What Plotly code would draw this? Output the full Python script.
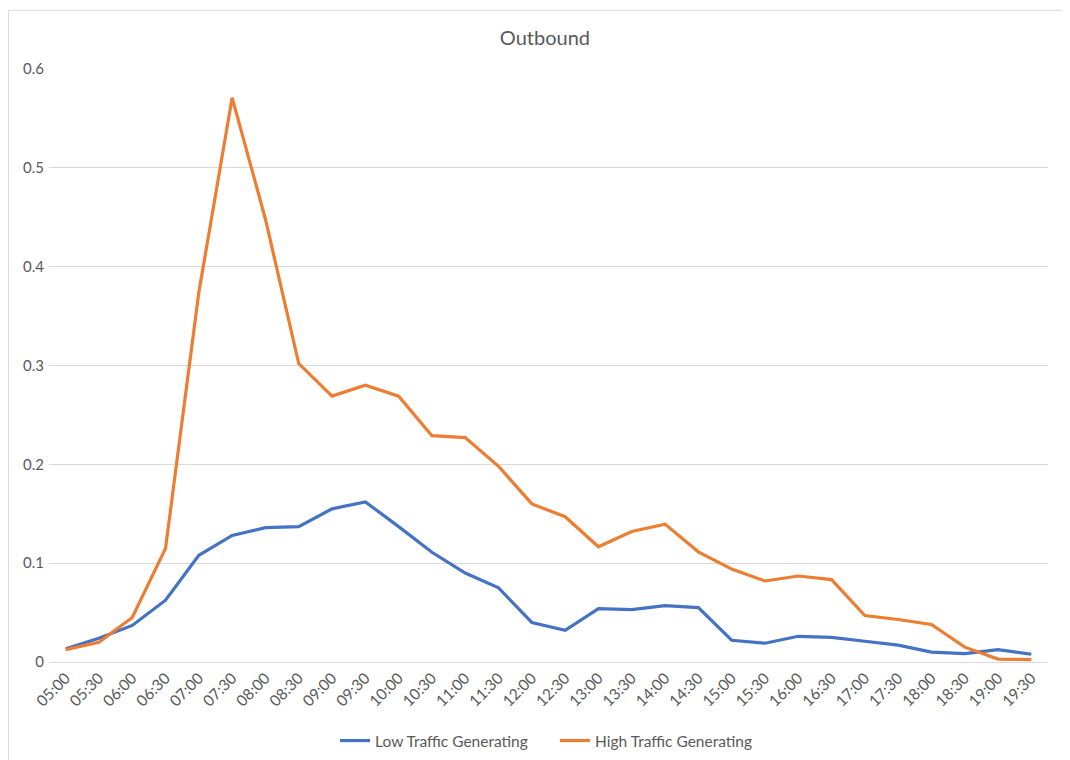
import plotly.graph_objects as go

times = ["05:00", "05:30", "06:00", "06:30", "07:00", "07:30", "08:00", "08:30",
         "09:00", "09:30", "10:00", "10:30", "11:00", "11:30", "12:00", "12:30",
         "13:00", "13:30", "14:00", "14:30", "15:00", "15:30", "16:00", "16:30",
         "17:00", "17:30", "18:00", "18:30", "19:00", "19:30"]

low_traffic = [0.0135, 0.024, 0.037, 0.0625, 0.108, 0.128, 0.136, 0.137,
               0.155, 0.162, 0.137, 0.111, 0.090, 0.075, 0.040, 0.032,
               0.054, 0.053, 0.057, 0.055, 0.022, 0.019, 0.026, 0.025,
               0.021, 0.017, 0.010, 0.0085, 0.0125, 0.0078]

high_traffic = [0.0125, 0.020, 0.045, 0.115, 0.374, 0.571, 0.448, 0.302,
                0.269, 0.280, 0.269, 0.229, 0.227, 0.198, 0.160, 0.147,
                0.1166, 0.132, 0.1395, 0.1115, 0.094, 0.082, 0.087, 0.0834,
                0.047, 0.043, 0.038, 0.015, 0.003, 0.0024]

grey = "#595959"
fnt = "Lato, 'Open Sans', sans-serif"

fig = go.Figure()
fig.add_trace(go.Scatter(x=times, y=low_traffic, mode="lines",
                         name="Low Traffic Generating",
                         line=dict(color="#4472C4", width=3.2)))
fig.add_trace(go.Scatter(x=times, y=high_traffic, mode="lines",
                         name="High Traffic Generating",
                         line=dict(color="#ED7D31", width=3.2)))

# page body has an 8px margin, so the figure is a bit smaller and shifted
fig.update_layout(
    width=1062, height=752,
    margin=dict(l=40.5, r=22, t=61, b=98.3),
    paper_bgcolor="white", plot_bgcolor="white",
    font=dict(family=fnt, color=grey, size=14),
    title=dict(text="Outbound", x=0.5056, xanchor="center", y=0.96, yanchor="middle",
               font=dict(size=20, color=grey, family=fnt)),
    legend=dict(orientation="h", xref="container", yref="container",
                x=0.308, xanchor="left", y=0.0253, yanchor="middle",
                font=dict(size=15.5, color=grey), entrywidth=175, tracegroupgap=0),
    showlegend=True,
)
fig.update_xaxes(type="category", tickangle=-45, showgrid=False, zeroline=False,
                 showline=True, linecolor="#D9D9D9", linewidth=1, ticks="",
                 tickfont=dict(size=15.5, color=grey), range=[-0.5, 29.5],
                 automargin=False)
fig.update_yaxes(range=[0, 0.6], dtick=0.1, showgrid=True, gridcolor="#D9D9D9",
                 gridwidth=1, zeroline=False, showline=False, ticks="",
                 tickfont=dict(size=15, color=grey),
                 ticklabelstandoff=4, automargin=False)

# chart-area border (top and left)
fig.add_shape(type="rect", xref="paper", yref="paper",
              x0=-0.0405, x1=1.05, y0=-0.2, y1=1.099,
              line=dict(color="#D9D9D9", width=1), fillcolor="rgba(0,0,0,0)",
              layer="above")

fig.write_html("out.html")
